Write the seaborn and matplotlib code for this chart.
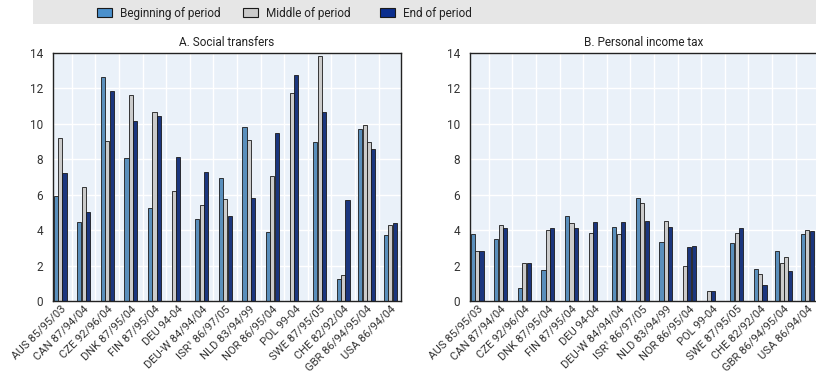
import numpy as np
import pandas as pd
import seaborn as sns
from matplotlib import pyplot as plt
from matplotlib.patches import Patch, Rectangle
from matplotlib.transforms import ScaledTranslation

# data
countries = ["AUS 85/95/03", "CAN 87/94/04", "CZE 92/96/04", "DNK 87/95/04", "FIN 87/95/04",
             "DEU 94-04", "DEU-W 84/94/04", "ISR\u00b9 86/97/05", "NLD 83/94/99", "NOR 86/95/04",
             "POL 99-04", "SWE 87/95/05", "CHE 82/92/04", "GBR 86/94/95/04", "USA 86/94/04"]

social_values = [[5.95, 9.22, 7.21], [4.48, 6.44, 5.0], [12.67, 9.02, 11.86], [8.06, 11.61, 10.16],
                 [5.23, 10.67, 10.45], [6.23, 8.11], [4.65, 5.44, 7.30], [6.93, 5.74, 4.82],
                 [9.84, 9.07, 5.83], [3.90, 7.04, 9.47], [11.76, 12.78], [8.96, 13.83, 10.69],
                 [1.22, 1.49, 5.72], [9.69, 9.92, 8.96, 8.56], [3.71, 4.29, 4.38]]
social_periods = ["BME", "BME", "BME", "BME", "BME", "ME", "BME", "BME", "BME", "BME",
                  "ME", "BME", "BME", "BMME", "BME"]

tax_values = [[3.76, 2.85, 2.80], [3.52, 4.31, 4.10], [0.71, 2.14, 2.12], [1.74, 4.00, 4.12],
              [4.78, 4.38, 4.14], [3.82, 4.48], [4.16, 3.76, 4.44], [5.83, 5.53, 4.49],
              [3.33, 4.53, 4.17], [1.97, 3.04, 3.10], [0.58, 0.58], [3.29, 3.82, 4.10],
              [1.78, 1.50, 0.89], [2.85, 2.12, 2.48, 1.67], [3.76, 4.02, 3.95]]
tax_periods = ["BME", "BME", "BME", "BME", "BME", "ME", "BME", "BME", "BME", "MEE",
               "ME", "BME", "BME", "BMME", "BME"]

period_names = {"B": "Beginning of period", "M": "Middle of period", "E": "End of period"}
palette = {"Beginning of period": "#4A90CC", "Middle of period": "#CBCBCB", "End of period": "#0B2E8E"}
hue_order = list(palette.keys())

step = 0.185  # distance between neighbouring bars, in category units


def long_table(values, periods):
    rows = []
    for i, (vals, pers) in enumerate(zip(values, periods)):
        first = -1.5 if len(vals) == 4 else -1.0
        for j, (v, p) in enumerate(zip(vals, pers)):
            rows.append({"pos": i + (first + j) * step, "value": v, "period": period_names[p]})
    return pd.DataFrame(rows)


sns.set_style("white")
plt.rcParams["font.family"] = ["Liberation Sans Narrow", "Roboto", "DejaVu Sans"]
plt.rcParams["text.color"] = "#222222"
plt.rcParams["xtick.color"] = "#333333"
plt.rcParams["ytick.color"] = "#333333"

fig = plt.figure(figsize=(8.16, 3.78), dpi=100)
W, H = 816, 378
ax_a = fig.add_axes([53 / W, 77 / H, 348 / W, 248 / H])
ax_b = fig.add_axes([470 / W, 77 / H, 348 / W, 248 / H])

panels = [(ax_a, social_values, social_periods, "A. Social transfers"),
          (ax_b, tax_values, tax_periods, "B. Personal income tax")]

shift = ScaledTranslation(4 / 100, 0, fig.dpi_scale_trans)

for ax, values, periods, title in panels:
    df = long_table(values, periods)
    sns.barplot(data=df, x="pos", y="value", hue="period", hue_order=hue_order, palette=palette,
                native_scale=True, dodge=False, width=0.95, errorbar=None,
                edgecolor="#1a1a1a", linewidth=0.6, legend=False, ax=ax)
    ax.set_facecolor("#EAF1F9")
    ax.set_xlim(-0.3, 14.45)
    ax.set_ylim(0, 14)
    ax.set_xticks(range(len(countries)))
    ax.set_xticklabels(countries, rotation=45, ha="right", va="top", rotation_mode="anchor", fontsize=8.1)
    for lab in ax.get_xticklabels():
        lab.set_transform(lab.get_transform() + shift)
    ax.set_xticks(np.arange(0.5, len(countries) - 1, 1), minor=True)
    ax.tick_params(axis="x", which="major", length=0, pad=2)
    ax.tick_params(axis="x", which="minor", length=3, direction="in", color="#555555", width=1)
    ax.set_yticks(range(0, 15, 2))
    ax.tick_params(axis="y", length=3, direction="in", labelsize=8.5, pad=7, color="#555555")
    ax.grid(which="minor", axis="x", color="white", lw=1)
    ax.grid(which="major", axis="y", color="white", lw=1)
    ax.set_axisbelow(True)
    for s in ax.spines.values():
        s.set_visible(True)
        s.set_color("#222222")
        s.set_linewidth(1)
    ax.set_xlabel("")
    ax.set_ylabel("")
    ax.set_title(title, fontsize=8.5, pad=5)

# legend band at the top
fig.patches.append(Rectangle((33 / W, 1 - 24 / H), 1, 24 / H, transform=fig.transFigure,
                             facecolor="#E6E6E6", edgecolor="none", zorder=0))
for name, x0 in zip(hue_order, [97, 243, 380]):
    h = Patch(facecolor=palette[name], edgecolor="#1a1a1a", linewidth=0.8)
    fig.legend([h], [name], loc="center left", bbox_to_anchor=(x0 / W, 1 - 13 / H),
               frameon=False, fontsize=8.5, handlelength=1.25, handleheight=0.85,
               handletextpad=0.7, borderpad=0, borderaxespad=0)

fig.savefig("out.png", dpi=100)
